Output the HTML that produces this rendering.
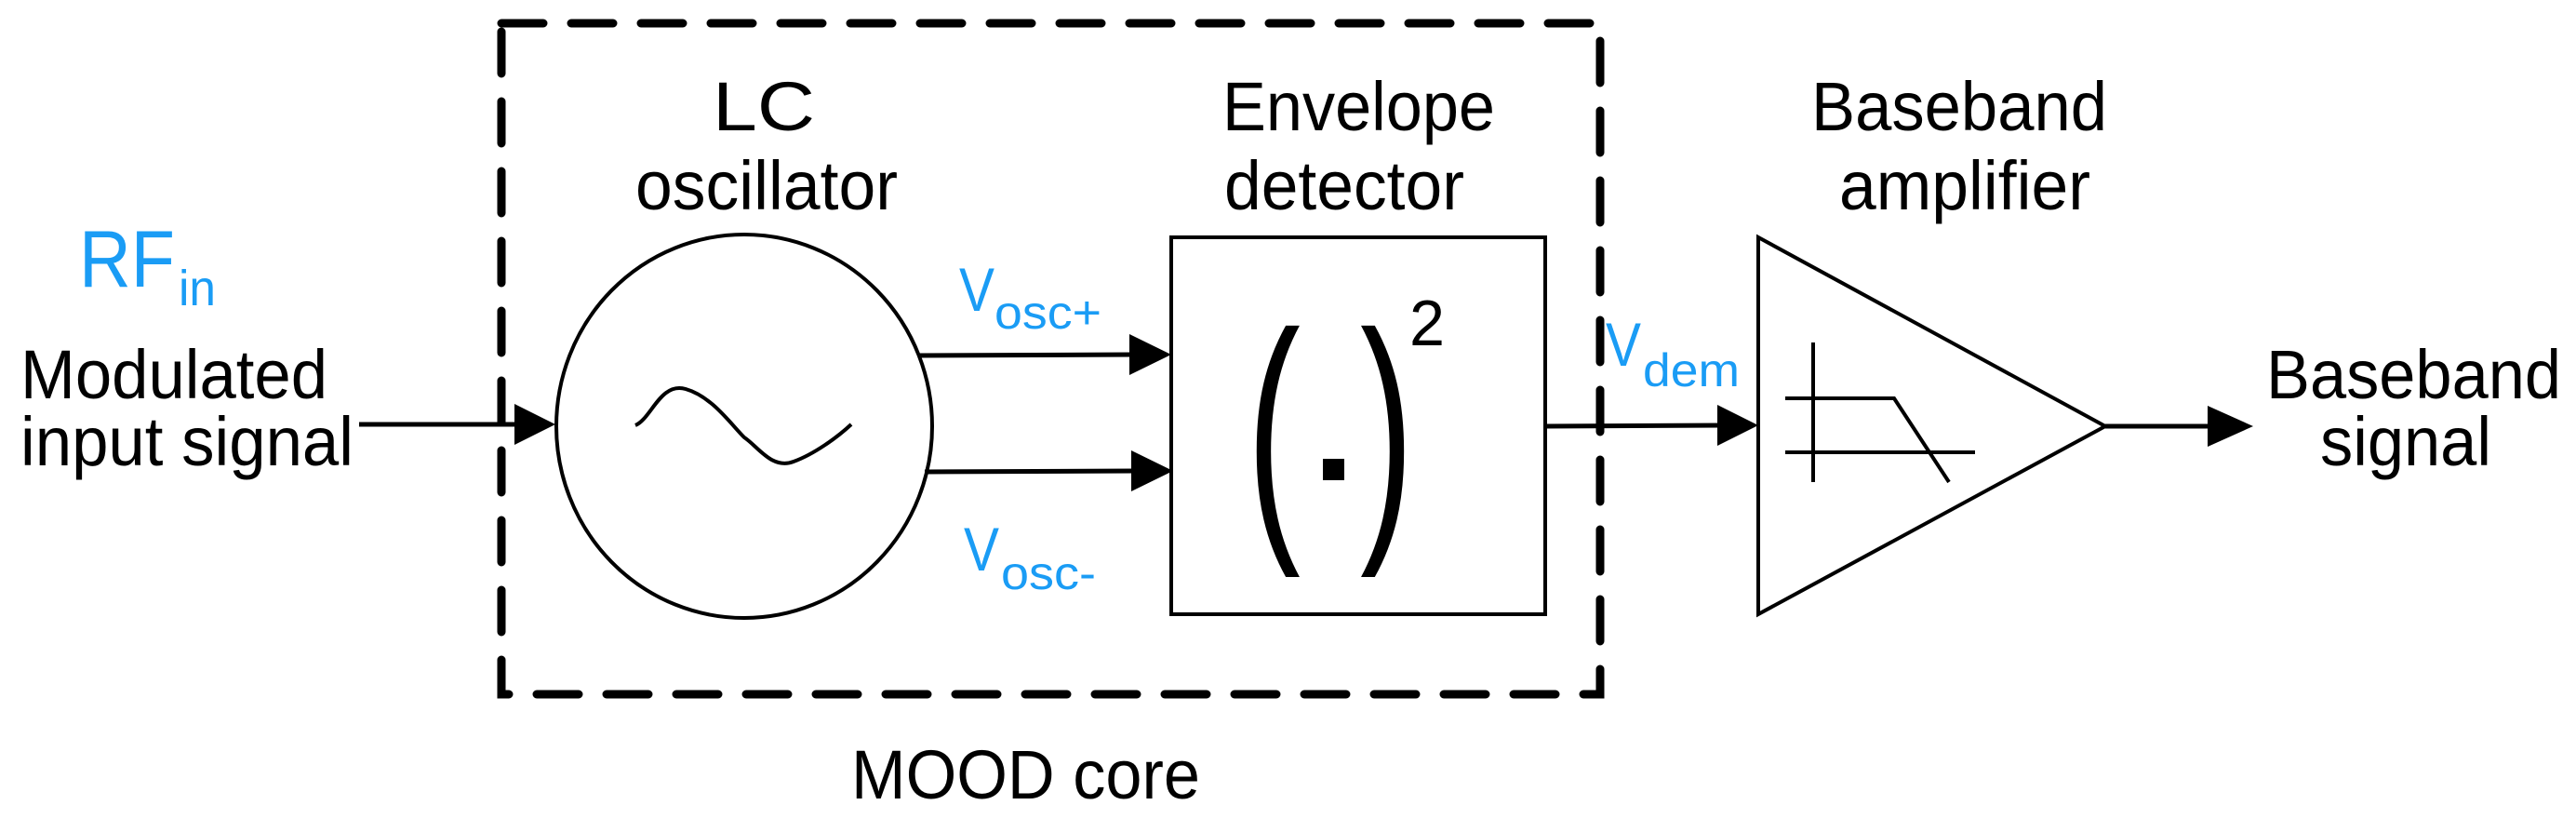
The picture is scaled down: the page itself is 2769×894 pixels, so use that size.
<!DOCTYPE html>
<html><head><meta charset="utf-8"><style>html,body{margin:0;padding:0;background:#fff}svg{display:block}</style></head>
<body>
<svg width="2769" height="894" viewBox="0 0 2769 894" xmlns="http://www.w3.org/2000/svg" font-family="Liberation Sans, sans-serif">
<rect width="2769" height="894" fill="#fff"/>
<rect x="539" y="25" width="1181" height="721" fill="none" stroke="#000" stroke-width="9" stroke-dasharray="45 30" stroke-linecap="round"/>
<ellipse cx="800" cy="458" rx="202" ry="206" fill="none" stroke="#000" stroke-width="4"/>
<path d="M683,457 C700,450 710,410 737,418 C765,426 785,455 800,470 C815,480 830,505 853,496 C875,488 900,470 915,456" fill="none" stroke="#000" stroke-width="4"/>
<line x1="386" y1="456" x2="560" y2="456" stroke="#000" stroke-width="5"/>
<polygon points="553,434 597,456 553,478" fill="#000"/>
<line x1="987" y1="382" x2="1220" y2="381" stroke="#000" stroke-width="5"/>
<polygon points="1214,359 1259,381 1214,403" fill="#000"/>
<line x1="994" y1="507" x2="1222" y2="506" stroke="#000" stroke-width="5"/>
<polygon points="1216,484 1261,506 1216,528" fill="#000"/>
<rect x="1259" y="255" width="402" height="405" fill="none" stroke="#000" stroke-width="4"/>
<text x="1340" y="560" font-size="290" transform="translate(1340 0) scale(0.6 1) translate(-1340 0)">(</text>
<rect x="1422" y="493" width="23" height="23" fill="#000"/>
<text x="1462" y="560" font-size="290" transform="translate(1462 0) scale(0.6 1) translate(-1462 0)">)</text>
<text x="1515" y="371" font-size="70" textLength="38" lengthAdjust="spacingAndGlyphs">2</text>
<line x1="1661" y1="458" x2="1852" y2="457" stroke="#000" stroke-width="5"/>
<polygon points="1846,435 1890,457 1846,479" fill="#000"/>
<polygon points="1890,255 2263,458 1890,660" fill="none" stroke="#000" stroke-width="4"/>
<line x1="1949" y1="368" x2="1949" y2="518" stroke="#000" stroke-width="4"/>
<polyline points="1919,428 2036,428 2095,518" fill="none" stroke="#000" stroke-width="4"/>
<line x1="1919" y1="486" x2="2123" y2="486" stroke="#000" stroke-width="4"/>
<line x1="2263" y1="458" x2="2380" y2="458" stroke="#000" stroke-width="5"/>
<polygon points="2373,436 2422,458 2373,480" fill="#000"/>
<g font-size="74" fill="#000">
<text x="766" y="140" textLength="110" lengthAdjust="spacingAndGlyphs">LC</text>
<text x="683" y="225" textLength="282" lengthAdjust="spacingAndGlyphs">oscillator</text>
<text x="1314" y="140" textLength="293" lengthAdjust="spacingAndGlyphs">Envelope</text>
<text x="1316" y="225" textLength="258" lengthAdjust="spacingAndGlyphs">detector</text>
<text x="1947" y="140" textLength="318" lengthAdjust="spacingAndGlyphs">Baseband</text>
<text x="1977" y="225" textLength="270" lengthAdjust="spacingAndGlyphs">amplifier</text>
<text x="2436" y="428" textLength="317" lengthAdjust="spacingAndGlyphs">Baseband</text>
<text x="2494" y="500" textLength="184" lengthAdjust="spacingAndGlyphs">signal</text>
<text x="22" y="428" textLength="330" lengthAdjust="spacingAndGlyphs">Modulated</text>
<text x="22" y="500" textLength="358" lengthAdjust="spacingAndGlyphs">input signal</text>
<text x="915" y="858" textLength="375" lengthAdjust="spacingAndGlyphs">MOOD core</text>
</g>
<g fill="#1a9cf5">
<text x="85" y="308" font-size="86" textLength="103" lengthAdjust="spacingAndGlyphs">RF</text>
<text x="192" y="328" font-size="54" textLength="40" lengthAdjust="spacingAndGlyphs">in</text>
<text x="1031" y="334" font-size="66" textLength="38" lengthAdjust="spacingAndGlyphs">V</text>
<text x="1069" y="353" font-size="50" textLength="115" lengthAdjust="spacingAndGlyphs">osc+</text>
<text x="1036" y="613" font-size="66" textLength="38" lengthAdjust="spacingAndGlyphs">V</text>
<text x="1076" y="633" font-size="50" textLength="102" lengthAdjust="spacingAndGlyphs">osc-</text>
<text x="1726" y="393" font-size="66" textLength="38" lengthAdjust="spacingAndGlyphs">V</text>
<text x="1766" y="415" font-size="50" textLength="104" lengthAdjust="spacingAndGlyphs">dem</text>
</g>
</svg>
</body></html>
